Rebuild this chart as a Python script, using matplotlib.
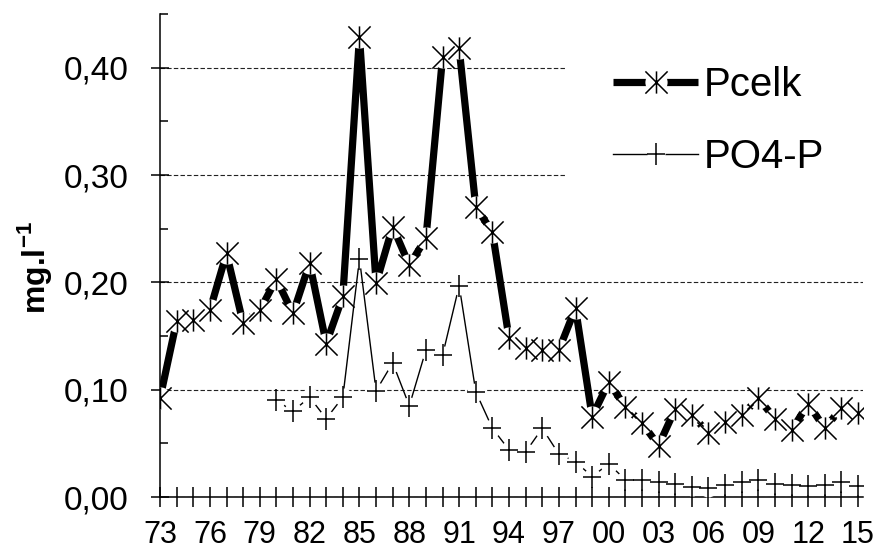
import numpy as np
import matplotlib
matplotlib.use('Agg')
import matplotlib.pyplot as plt
from matplotlib.path import Path
from matplotlib.ticker import FixedLocator, MultipleLocator, FixedFormatter

plt.rcParams['font.family'] = ['Liberation Sans', 'DejaVu Sans']
plt.rcParams['mathtext.fontset'] = 'custom'
plt.rcParams['mathtext.bf'] = 'Liberation Sans:bold'
plt.rcParams['mathtext.rm'] = 'Liberation Sans'

# yearly means 1973-2015
years = list(range(1973, 2016))
pcelk = [0.092, 0.164, 0.165, 0.174, 0.227, 0.162, 0.174,
         0.203, 0.171, 0.218, 0.143, 0.187, 0.429, 0.199, 0.252, 0.216, 0.241,
         0.410, 0.418, 0.270, 0.247, 0.148, 0.139, 0.137, 0.137, 0.176, 0.075,
         0.107, 0.084, 0.069, 0.048, 0.082, 0.076, 0.060, 0.070, 0.076, 0.092,
         0.073, 0.062, 0.087, 0.064, 0.083, 0.078]

# phosphate only measured from 1980
po4_years = list(range(1980, 2016))
po4p = [0.090, 0.080, 0.093, 0.073, 0.093, 0.222, 0.099, 0.125, 0.085, 0.137,
        0.132, 0.197, 0.098, 0.064, 0.044, 0.042, 0.064, 0.040, 0.033, 0.019,
        0.031, 0.016, 0.016, 0.014, 0.012, 0.009, 0.008, 0.011, 0.014, 0.016,
        0.012, 0.011, 0.010, 0.011, 0.014, 0.010]

label_years = years[::3]
xtick_labels = ['%02d' % (y % 100) for y in label_years]
yticks = [0.0, 0.1, 0.2, 0.3, 0.4]
ytick_labels = ['0,00', '0,10', '0,20', '0,30', '0,40']

# excel-like markers: star = X with a vertical bar, plus slightly taller than wide
star = Path([(-1, -1), (1, 1), (-1, 1), (1, -1), (0, -1), (0, 1)],
            [Path.MOVETO, Path.LINETO] * 3)
plus = Path([(-0.8, 0), (0.8, 0), (0, -1), (0, 1)],
            [Path.MOVETO, Path.LINETO] * 2)

fig = plt.figure(figsize=(8.75, 5.52), dpi=100)
ax = fig.add_axes([0.1829, 0.0996, 0.8034, 0.875])

# Pcelk: thick line, markers sit on white spots
l1, = ax.plot(years, pcelk, color='k', lw=5.2, zorder=3, solid_capstyle='butt')
w1, = ax.plot(years, pcelk, ls='none', marker='o', ms=16, mfc='white', mec='none', zorder=3.1)
m1, = ax.plot(years, pcelk, ls='none', marker=star, ms=16, mfc='none', mec='k', mew=1.1, zorder=3.2)

# PO4-P: thin line with plus markers
l2, = ax.plot(po4_years, po4p, color='k', lw=1.0, zorder=4)
w2, = ax.plot(po4_years, po4p, ls='none', marker='o', ms=13, mfc='white', mec='none', zorder=4.1)
m2, = ax.plot(po4_years, po4p, ls='none', marker=plus, ms=16, mfc='none', mec='k', mew=1.1, zorder=4.2)

ax.set_xlim(1973, 2015.3)
ax.set_ylim(0, 0.45)

ax.xaxis.set_major_locator(FixedLocator(years))
ax.set_xticklabels([xtick_labels[label_years.index(y)] if y in label_years else '' for y in years],
                   fontsize=22)
ax.yaxis.set_major_locator(FixedLocator(yticks))
ax.yaxis.set_major_formatter(FixedFormatter(ytick_labels))
ax.yaxis.set_minor_locator(MultipleLocator(0.05))

ax.tick_params(axis='x', which='major', direction='inout', length=14.5, width=1.1, pad=9, colors='k')
ax.tick_params(axis='y', which='major', direction='inout', length=13.5, width=1.1, pad=16,
               labelsize=24, colors='k')
ax.tick_params(axis='y', which='minor', direction='in', length=6, width=1.1)

for s in ['top', 'right']:
    ax.spines[s].set_visible(False)
for s in ['left', 'bottom']:
    ax.spines[s].set_linewidth(1.1)
    ax.spines[s].set_color('k')

ax.yaxis.grid(True, which='major', color='#222222', lw=0.8, ls=(0, (4, 2)))
ax.set_axisbelow(True)

fig.text(34 / 875, 1 - 268 / 552, r'mg.l$^{\mathbf{-1}}$', rotation=90, fontsize=23,
         fontweight='bold', ha='center', va='center')

leg = ax.legend([(l1, w1, m1), (l2, w2, m2)], ['Pcelk', 'PO4-P'],
                loc='upper left', bbox_to_anchor=(0.576, 0.993), fontsize=29,
                frameon=True, facecolor='white', edgecolor='none', framealpha=1,
                borderpad=1.2, handlelength=2.1, handletextpad=0.15, labelspacing=0.85,
                borderaxespad=0)
leg.set_zorder(5)

fig.savefig('out.png', dpi=100)
